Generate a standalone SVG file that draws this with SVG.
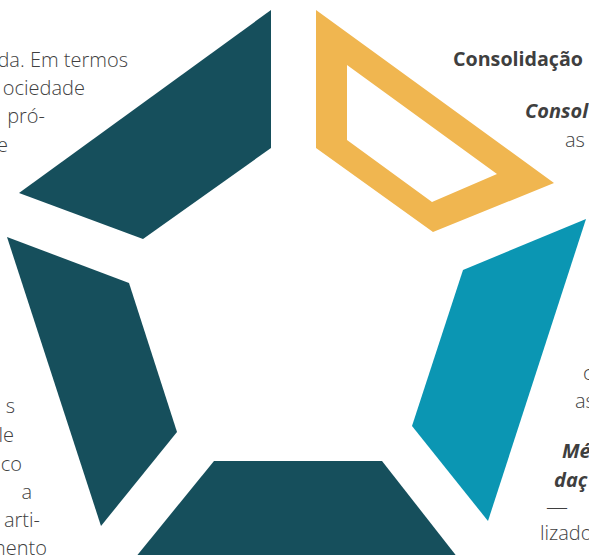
<svg xmlns="http://www.w3.org/2000/svg" width="589" height="555" viewBox="0 0 589 555">
<style>
.dark{fill:#164F5C}
.teal{fill:#0B96B3}
.gold{fill:#F0B650;fill-rule:evenodd}
.t{font-family:"Open Sans","Liberation Sans",sans-serif;font-size:20px;font-weight:300;fill:#3F3F3F}
.b{font-weight:700}
.bi{font-weight:700;font-style:italic}
</style>
<rect width="589" height="555" fill="#FFFFFF"/>
<g id="shape-top-left"><polygon class="dark" points="271,10 271,148 143,239 19,193"/></g>
<g id="shape-top-right"><path class="gold" d="M316,10 L554,183 L433,232 L316,148 Z M347,65 L347,140 L432,202 L497,174 Z"/></g>
<g id="shape-right"><polygon class="teal" points="586,219 463,270 412,426 488,521"/></g>
<g id="shape-bottom"><polygon class="dark" points="214,461 382,461 458,558 135,558"/></g>
<g id="shape-left"><polygon class="dark" points="7,237 129,283 177,432 101,526"/></g>
<g id="text-top-left" class="t">
<text x="128" y="67" text-anchor="end">da. Em termos</text>
<text x="85" y="95" text-anchor="end">ociedade</text>
<text x="45" y="123" text-anchor="end">pró-</text>
<text x="8" y="152" text-anchor="end">e</text>
</g>
<g id="text-bottom-left" class="t">
<text x="15" y="413" text-anchor="end">s</text>
<text x="14" y="442" text-anchor="end">le</text>
<text x="22" y="471" text-anchor="end">co</text>
<text x="32" y="499" text-anchor="end">a</text>
<text x="40" y="527" text-anchor="end">arti-</text>
<text x="47" y="555" text-anchor="end">mento</text>
</g>
<g id="text-top-right" class="t">
<text class="b" x="453" y="66" textLength="130" lengthAdjust="spacingAndGlyphs">Consolidação</text>
<text class="bi" x="525" y="118">Consol</text>
<text x="565" y="147">as</text>
</g>
<g id="text-bottom-right" class="t">
<text x="583" y="380">c</text>
<text x="575" y="408">as</text>
<text class="bi" x="562" y="458">Mé</text>
<text class="bi" x="554" y="487">daç</text>
<text x="546" y="514" textLength="22" lengthAdjust="spacingAndGlyphs">—</text>
<text x="540" y="540">lizado</text>
</g>
</svg>
